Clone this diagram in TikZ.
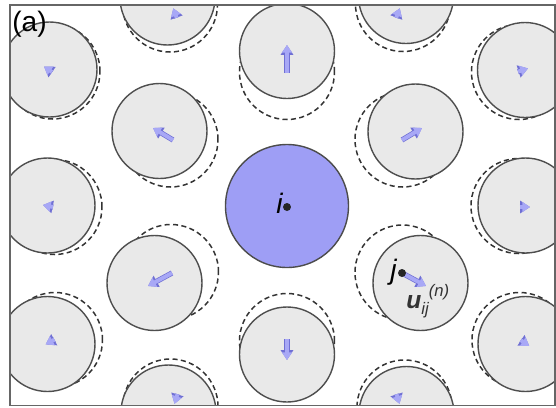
\documentclass[tikz,border=0pt]{standalone}
\usepackage{fontspec}
\setmainfont{Liberation Sans}
\usepackage{xcolor}
\usepackage{tikz}
\usetikzlibrary{arrows.meta}

\definecolor{sitegray}{RGB}{233,233,233}
\definecolor{siteedge}{RGB}{78,78,78}
\definecolor{iblue}{RGB}{158,158,245}
\definecolor{ufill}{RGB}{168,168,246}
\definecolor{uedge}{RGB}{112,112,212}

\begin{document}
\begin{tikzpicture}[x=0.02cm, y=0.02cm,
  site/.style={fill=sitegray, draw=siteedge, line width=0.8pt},
  refsite/.style={draw=black!80, line width=0.85pt, dash pattern=on 2.9pt off 1.9pt},
  disp/.style={draw=ufill, line width=2.2pt, -{Triangle[length=4.4pt,width=5.6pt]},
    preaction={draw=uedge, line width=3pt, -{Triangle[length=5.6pt,width=6.9pt]}}},
  lbl/.style={font=\fontsize{16}{19}\selectfont\itshape, inner sep=0pt}]

\useasboundingbox (0,0) rectangle (556,-407);

\begin{scope}
  \clip (10,-5) rectangle (555,-405.5);

  % first shell (six nearest neighbours of i)
  \draw[refsite] (287,-72) circle (47.5);
  \draw[site] (287,-51) circle (47.5);
  \draw[disp] (287,-73) -- (287,-45);

  \draw[refsite] (170.5,-139.5) circle (47.5);
  \draw[site] (159.5,-131) circle (47.5);
  \draw[disp] (173,-140) -- (153,-128);

  \draw[refsite] (402.5,-139.5) circle (47.5);
  \draw[site] (415.5,-131.5) circle (47.5);
  \draw[disp] (402,-140) -- (422,-128);

  \draw[refsite] (171,-272) circle (47.5);
  \draw[site] (154.5,-283) circle (47.5);
  \draw[disp] (172,-273) -- (148,-286);

  \draw[refsite] (402.5,-272.5) circle (47.5);
  \draw[site] (420.5,-283) circle (47.5);
  \draw[disp] (402,-273) -- (426,-286);

  \draw[refsite] (287,-341) circle (47.5);
  \draw[site] (287,-354.5) circle (47.5);
  \draw[disp] (287,-339) -- (287,-360);

  % outer shell (small displacements)
  \draw[refsite] (52.5,-71.5) circle (47.5);
  \draw[site] (49.5,-69.5) circle (47.5);
  \draw[disp] (52,-72) -- (44,-66.5);

  \draw[refsite] (170,-4.5) circle (47.5);
  \draw[site] (167.5,2.5) circle (47.5);
  \draw[disp] (176.7,-17.7) -- (173.3,-8.3);

  \draw[refsite] (403,-4) circle (47.5);
  \draw[site] (406,4) circle (47.5);
  \draw[disp] (396.2,-17.7) -- (399.8,-8.3);

  \draw[refsite] (519,-72) circle (47.5);
  \draw[site] (525,-70) circle (47.5);
  \draw[disp] (518,-71.6) -- (528,-68.4);

  \draw[refsite] (54.5,-207) circle (47.5);
  \draw[site] (47.5,-205.5) circle (47.5);
  \draw[disp] (53,-207) -- (43,-205);

  \draw[refsite] (518.5,-206) circle (47.5);
  \draw[site] (525.5,-205.5) circle (47.5);
  \draw[disp] (520,-207) -- (530,-207);

  \draw[refsite] (55,-340) circle (47.5);
  \draw[site] (47.5,-344) circle (47.5);
  \draw[disp] (54.4,-339.6) -- (45.6,-344.4);

  \draw[refsite] (519.5,-340) circle (47.5);
  \draw[site] (525.5,-344) circle (47.5);
  \draw[disp] (520.8,-340.2) -- (529.2,-345.8);

  \draw[refsite] (170.5,-406.5) circle (47.5);
  \draw[site] (168.5,-412.5) circle (47.5);
  \draw[disp] (177.5,-394.2) -- (174.5,-403.8);

  \draw[refsite] (404.5,-407.5) circle (47.5);
  \draw[site] (406.5,-414) circle (47.5);
  \draw[disp] (396.5,-394.2) -- (399.5,-403.8);
\end{scope}

% central particle i
\coordinate (I) at (287,-207);
\draw[fill=iblue, draw=black!70, line width=0.8pt] (287,-206) circle (61.5);
\fill[black!85] (I) circle (4);
\node[lbl, anchor=base east] (ilabel) at (283,-213) {i};

% particle j and its displacement
\coordinate (J) at (402,-273);
\fill[black!85] (J) circle (4);
\node[lbl, anchor=base east] (jlabel) at (397,-279) {j};
\node[inner sep=0pt, anchor=base west, text=black!80] (ulabel) at (406,-308)
  {\fontsize{14}{16}\selectfont\bfseries\itshape u%
   \raisebox{-3.7pt}{\fontsize{9.5}{11}\selectfont\mdseries\itshape ij}%
   \raisebox{6.5pt}{\fontsize{9.5}{11}\selectfont\mdseries\itshape (n)}};

% frame and panel label
\draw[black!60, line width=0.85pt] (10,-5) rectangle (555,-405.5);
\node[inner sep=0pt, anchor=base west, font=\fontsize{16}{19}\selectfont] (panel) at (12,-31) {(a)};

\end{tikzpicture}
\end{document}
